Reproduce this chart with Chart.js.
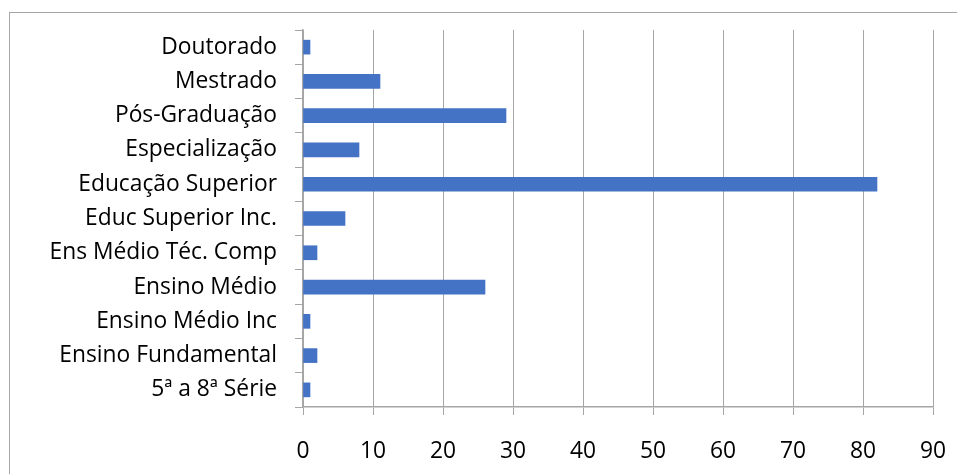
<!DOCTYPE html>
<html>
<head>
<meta charset="utf-8">
<script src="https://cdn.jsdelivr.net/npm/chart.js@4.4.0/dist/chart.umd.min.js"></script>
<style>
  html, body { margin: 0; padding: 0; background: #fff; overflow: hidden; }
  #wrap { position: relative; width: 957px; height: 474px; }
  #frame {
    position: absolute; left: 9px; top: 12px; width: 1000px; height: 500px;
    border-top: 1.5px solid #a6a6a6; border-left: 1.5px solid #a6a6a6;
  }
  canvas { position: absolute; left: 0; top: 0; }
</style>
</head>
<body>
<div id="wrap">
  <div id="frame"></div>
  <canvas id="myChart" width="957" height="474"></canvas>
</div>
<script>
// Categories, top to bottom as in the picture
var categories = [
    "Doutorado",
    "Mestrado",
    "Pós-Graduação",
    "Especialização",
    "Educação Superior",
    "Educ Superior Inc.",
    "Ens Médio Téc. Comp",
    "Ensino Médio",
    "Ensino Médio Inc",
    "Ensino Fundamental",
    "5ª a 8ª Série"
];

// Counts per category
var values = [1, 11, 29, 8, 82, 6, 2, 26, 1, 2, 1];

// X axis range
var xMin = 0;
var xMax = 90;
var xStep = 10;

var labelFont = { family: "'Open Sans', 'Noto Sans', sans-serif", size: 22.8 };
var gridColor = "#a6a6a6";

var ctx = document.getElementById("myChart").getContext("2d");
var config = {
    type: "bar",
    data: {
        labels: categories,
        datasets: [{
            data: values,
            backgroundColor: "#4472C4",
            borderWidth: 0,
            barThickness: 14
        }]
    },
    options: {
        indexAxis: "y",
        responsive: false,
        animation: false,
        layout: { padding: { top: 30, right: 24, left: 0, bottom: 0 } },
        plugins: {
            legend: { display: false },
            tooltip: { enabled: false }
        },
        scales: {
            x: {
                min: xMin,
                max: xMax,
                ticks: { stepSize: xStep, color: "#000", font: labelFont, padding: 23 },
                grid: { color: gridColor, lineWidth: 1, tickLength: 8 },
                border: { color: gridColor, width: 1.5 },
                afterFit: function(scale) {
                    scale.height = 67;
                    scale.paddingLeft = 0;
                    scale.paddingRight = 0;
                }
            },
            y: {
                ticks: { color: "#000", font: labelFont, padding: 18 },
                grid: { color: gridColor, drawOnChartArea: false, tickLength: 8, offset: true },
                border: { color: gridColor, width: 1.5 },
                afterFit: function(scale) {
                    scale.width = 303;
                    scale.paddingTop = 0;
                    scale.paddingBottom = 0;
                }
            }
        }
    }
};
var chart = new Chart(ctx, config);
</script>
</body>
</html>
